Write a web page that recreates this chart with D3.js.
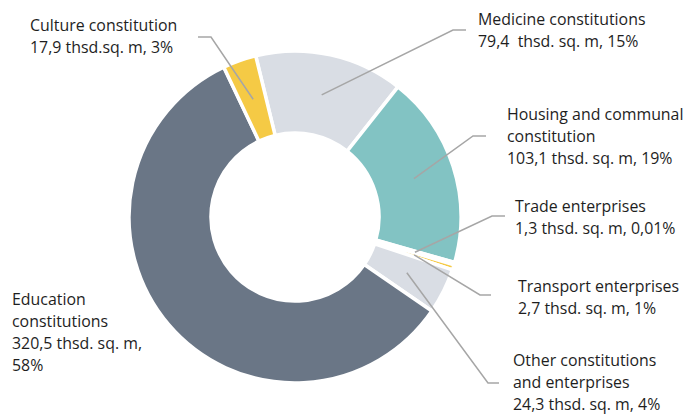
<!DOCTYPE html>
<html>
<head>
<meta charset="utf-8">
<script src="https://cdn.jsdelivr.net/npm/d3@7"></script>
<style>
  body { margin: 0; background: #fff; }
  text { font-family: "Open Sans", sans-serif; font-size: 15.9px; fill: #1e1e1e; white-space: pre; }
</style>
</head>
<body>
<script>
// data
var names = ["Medicine", "Housing", "Trade", "Transport", "Other", "Education", "Culture"];
var values = [79.4, 103.1, 1.3, 2.7, 24.3, 320.5, 17.9];
var labels = [
  ["Medicine constitutions", "79,4  thsd. sq. m, 15%"],
  ["Housing and communal", "constitution", "103,1 thsd. sq. m, 19%"],
  ["Trade enterprises", "1,3 thsd. sq. m, 0,01%"],
  ["Transport enterprises", "2,7 thsd. sq. m, 1%"],
  ["Other constitutions", "and enterprises", "24,3 thsd. sq. m, 4%"],
  ["Education", "constitutions", "320,5 thsd. sq. m,", "58%"],
  ["Culture constitution", "17,9 thsd.sq. m, 3%"]
];

var colors = ["#d9dde4", "#82c3c3", "#d9dde4", "#f5ca45", "#d9dde4", "#6a7686", "#f5ca45"];

// label layout: text x, first baseline, elbow point, end of horizontal leader
var layout = [
  {tx: 478, ty: 25, elbow: [453, 30], end: [466, 30]},
  {tx: 507, ty: 120, elbow: [473, 136], end: [486, 136]},
  {tx: 515, ty: 212, elbow: [492, 216], end: [505, 216]},
  {tx: 518, ty: 292, elbow: [480, 295], end: [491, 295]},
  {tx: 513, ty: 366, elbow: [488, 383], end: [499, 383]},
  {tx: 12, ty: 305, elbow: null, end: null},
  {tx: 30, ty: 31, elbow: [211, 37], end: [198, 37]}
];

var width = 687, height = 416;
var cx = 295, cy = 217, outerR = 166, innerR = 84;
var lineH = 22;

var svg = d3.select("body").append("svg")
  .attr("width", width)
  .attr("height", height);

var data = names.map(function(n, i) { return {name: n, value: values[i], i: i}; });

var start = -13.7 * Math.PI / 180;
var pie = d3.pie().sort(null).value(function(d) { return d.value; })
  .startAngle(start).endAngle(start + 2 * Math.PI);
var arc = d3.arc().innerRadius(innerR).outerRadius(outerR);

var g = svg.append("g").attr("transform", "translate(" + cx + "," + cy + ")");
var arcs = pie(data);

g.selectAll("path.slice")
  .data(arcs)
  .enter().append("path")
  .attr("class", "slice")
  .attr("d", arc)
  .style("fill", function(d) { return colors[d.data.i]; })
  .style("stroke", "#fff")
  .style("stroke-width", 3.5)
  .style("stroke-linejoin", "miter");

// leader lines from slice centroids
arcs.forEach(function(d) {
  var l = layout[d.data.i];
  if (!l.elbow) return;
  var c = arc.centroid(d);
  var pts = [[cx + c[0], cy + c[1]], l.elbow, l.end];
  svg.append("path")
    .attr("d", d3.line()(pts))
    .style("fill", "none")
    .style("stroke", "#a6a6a6")
    .style("stroke-width", 1.5);
});

// labels
labels.forEach(function(lines, i) {
  var l = layout[i];
  var t = svg.append("text").attr("x", l.tx).attr("y", l.ty);
  lines.forEach(function(s, k) {
    t.append("tspan").attr("x", l.tx).attr("y", l.ty + k * lineH).text(s);
  });
});
</script>
</body>
</html>
